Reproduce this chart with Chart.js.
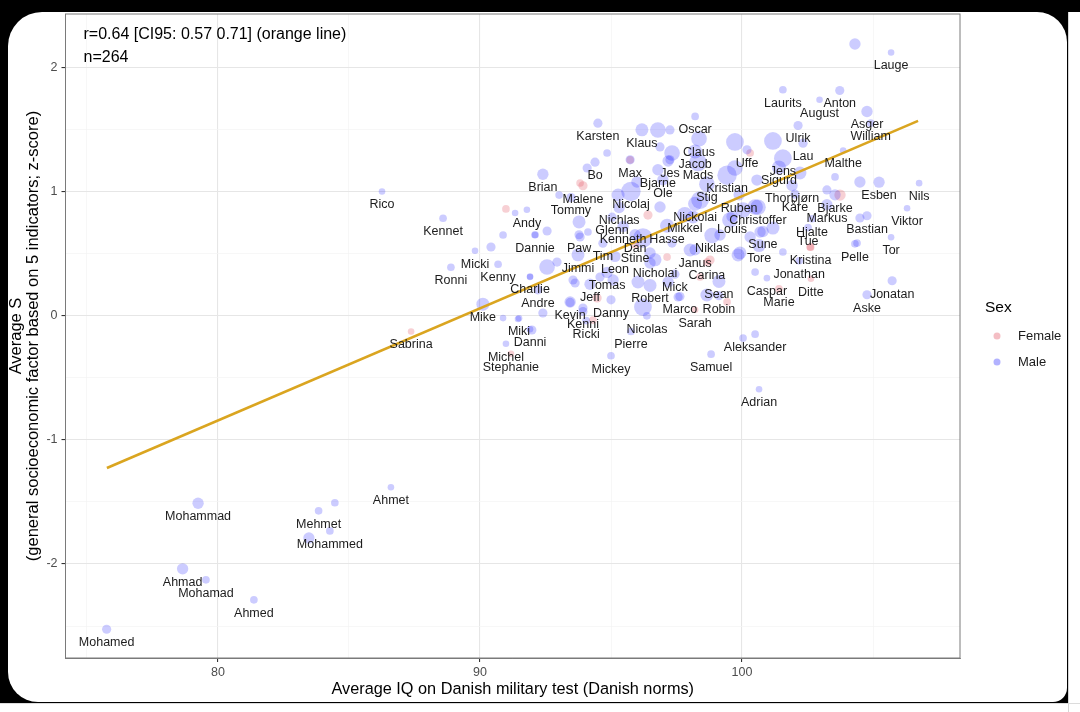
<!DOCTYPE html>
<html lang="en">
<head>
    <meta charset="UTF-8">
    <title>Average IQ and socioeconomic status by first name</title>
    <script src="https://cdn.jsdelivr.net/npm/chart.js"></script>
    <style>
        body { margin: 0; width: 1080px; height: 712px; background: #fff; overflow: hidden; font-family: "Liberation Sans", Arial, sans-serif; }
        #topband { position: absolute; left: 0; top: 0; width: 1080px; height: 12px; background: #000; }
        #frame { position: absolute; left: 0; top: 0; width: 1068px; height: 703px; background: #000; }
        #card { position: absolute; left: 8px; top: 12px; width: 1059px; height: 690px; background: #fff; border-radius: 34px 30px 14px 30px; }
        #edge { position: absolute; left: 1068px; top: 12px; width: 1px; height: 700px; background: #d6d6d6; }
        #bottomline { position: absolute; left: 0; top: 703px; width: 1080px; height: 1px; background: #dcdcdc; }
        #chartBox { position: absolute; left: 0; top: 0; width: 1080px; height: 712px; }
    </style>
</head>
<body>
    <div id="topband"></div>
    <div id="frame"></div>
    <div id="card"></div>
    <div id="edge"></div>
    <div id="bottomline"></div>
    <div id="chartBox"><canvas id="scatter"></canvas></div>
    <script>
        // names ('' = unlabeled), average IQ, average S, number of persons
        const maleNames = ['Lauge', 'Laurits', 'Anton', 'August', 'Asger', 'William', 'Ulrik', 'Lau', 'Malthe', 'Jens',
            'Sigurd', 'Uffe', 'Oscar', 'Claus', 'Jacob', 'Mads', 'Jes', 'Kristian', 'Stig', 'Thorbjørn',
            'Esben', 'Nils', 'Ruben', 'Kåre', 'Bjarke', 'Markus', 'Viktor', 'Nickolai', 'Christoffer', 'Mikkel',
            'Louis', 'Hjalte', 'Tue', 'Bastian', 'Hasse', 'Sune', 'Niklas', 'Tor', 'Tore', 'Pelle',
            'Janus', 'Jonathan', 'Mick', 'Caspar', 'Sean', 'Jonatan', 'Robert', 'Aske', 'Marco', 'Robin',
            'Aleksander', 'Samuel', 'Adrian', 'Dannie', 'Paw', 'Kenneth', 'Glenn', 'Nichlas', 'Dan', 'Tim',
            'Jimmi', 'Leon', 'Nicholai', 'Micki', 'Ronni', 'Kenny', 'Charlie', 'Tomas', 'Jeff', 'Andre',
            'Mike', 'Kevin', 'Danny', 'Kenni', 'Ricki', 'Miki', 'Danni', 'Nicolas', 'Pierre', 'Michel',
            'Mickey', 'Karsten', 'Klaus', 'Bo', 'Max', 'Brian', 'Bjarne', 'Ole', 'Nicolaj', 'Tommy',
            'Andy', 'Kennet', 'Rico', 'Ahmet', 'Mohammad', 'Mehmet', 'Mohammed', 'Ahmad', 'Mohamad', 'Ahmed',
            'Mohamed',
            '', '', '', '', '', '', '', '', '', '',
            '', '', '', '', '', '', '', '', '', '',
            '', '', '', '', '', '', '', '', '', '',
            '', '', '', '', '', '', '', '', '', '',
            '', '', '', '', '', '', '', '', '', '',
            '', '', '', '', '', '', '', '', '', '',
            '', '', '', '', '', '', '', '', ''];
        const maleIQ = [105.69, 101.56, 103.73, 102.96, 104.77, 104.91, 102.14, 102.33, 103.86, 101.56,
            101.41, 100.19, 98.21, 98.36, 98.21, 98.32, 97.25, 99.43, 98.66, 101.91,
            105.23, 106.76, 99.89, 102.02, 103.55, 103.24, 106.30, 98.21, 100.61, 97.82,
            99.62, 102.67, 102.52, 104.77, 97.14, 100.80, 98.86, 105.69, 100.65, 104.31,
            98.21, 102.18, 97.44, 100.95, 99.12, 105.73, 96.49, 104.77, 97.63, 99.12,
            100.50, 98.82, 100.65, 92.10, 93.78, 95.46, 95.04, 95.31, 95.92, 94.69,
            93.74, 95.15, 96.68, 89.81, 88.89, 90.69, 91.91, 94.85, 94.20, 92.21,
            90.11, 93.44, 95.00, 93.93, 94.05, 91.49, 91.91, 96.37, 95.76, 90.99,
            95.00, 94.50, 96.18, 94.39, 95.73, 92.40, 96.79, 96.98, 95.76, 93.47,
            91.79, 88.59, 86.26, 86.60, 79.24, 83.84, 84.27, 78.65, 79.54, 81.37,
            75.75,
            104.31, 83.47, 84.46, 96.79, 94.85, 94.09, 93.02, 91.34, 93.78, 92.56,
            92.10, 90.88, 90.42, 94.12, 95.27, 97.18, 99.73, 98.40, 98.13, 95.99,
            96.87, 93.82, 96.49, 98.02, 99.16, 99.92, 100.31, 100.50, 99.54, 93.55,
            95.08, 96.87, 99.73, 101.18, 102.21, 97.33, 97.25, 100.57, 104.50, 103.24,
            104.50, 103.55, 97.33, 100.04, 100.69, 101.18, 104.39, 99.85, 101.56, 100.50,
            97.56, 98.66, 100.04, 91.91, 92.56, 92.94, 90.88, 91.45, 91.98, 92.40,
            93.44, 93.63, 93.93, 96.22, 97.18, 96.03, 96.22, 96.49, 94.58];
        const maleS = [2.125, 1.824, 1.818, 1.743, 1.649, 1.555, 1.536, 1.393, 1.334, 1.272,
            1.197, 1.340, 1.609, 1.429, 1.326, 1.238, 1.259, 1.135, 1.063, 1.052,
            1.079, 1.071, 0.977, 0.982, 0.977, 0.897, 0.869, 0.905, 0.877, 0.816,
            0.802, 0.784, 0.713, 0.808, 0.727, 0.681, 0.649, 0.635, 0.568, 0.582,
            0.534, 0.445, 0.337, 0.305, 0.278, 0.284, 0.246, 0.171, 0.157, 0.163,
            -0.147, -0.308, -0.591, 0.655, 0.655, 0.722, 0.797, 0.875, 0.655, 0.587,
            0.493, 0.480, 0.453, 0.526, 0.393, 0.417, 0.318, 0.351, 0.256, 0.211,
            0.095, 0.109, 0.130, 0.036, -0.037, -0.018, -0.107, 0.001, -0.125, -0.224,
            -0.321, 1.555, 1.501, 1.240, 1.259, 1.143, 1.179, 1.098, 1.004, 0.955,
            0.856, 0.788, 1.004, -1.381, -1.510, -1.571, -1.733, -2.039, -2.128, -2.289,
            -2.526,
            2.193, -1.790, -1.506, 1.500, 1.314, 1.193, 0.975, 0.830, 0.758, 0.685,
            0.653, 0.653, 0.556, 0.677, 0.975, 1.250, 1.193, 0.935, 0.798, 1.080,
            0.879, 0.637, 0.508, 0.532, 0.653, 0.508, 0.637, 0.879, 0.774, 0.290,
            0.290, 1.363, 1.403, 1.411, 1.153, 1.314, 1.500, 1.096, 1.080, 1.016,
            0.790, 1.121, 0.588, 0.854, 0.677, 0.709, 0.588, 0.492, 0.516, 0.354,
            0.153, 0.169, -0.178, 0.314, 0.395, 0.435, -0.017, -0.025, -0.113, 0.024,
            0.113, 0.266, 0.064, 0.072, 0.274, 0.274, 0.629, 0.427, 0.314];
        const maleN = [1, 2, 4, 1, 8, 2, 4, 4, 1, 28,
            15, 4, 2, 20, 15, 28, 4, 35, 20, 8,
            8, 1, 8, 4, 8, 8, 1, 15, 20, 20,
            8, 2, 2, 4, 15, 8, 20, 1, 12, 2,
            8, 2, 4, 1, 12, 4, 12, 4, 4, 4,
            2, 2, 1, 2, 4, 8, 4, 8, 8, 4,
            12, 8, 12, 1, 2, 2, 1, 8, 8, 4,
            12, 4, 4, 4, 2, 1, 1, 2, 2, 1,
            2, 4, 12, 4, 4, 8, 8, 8, 35, 4,
            1, 2, 1, 1, 8, 2, 2, 8, 2, 2,
            4,
            8, 8, 2, 20, 2, 4, 2, 1, 12, 4,
            1, 2, 4, 2, 12, 8, 20, 28, 12, 8,
            8, 4, 8, 12, 8, 12, 8, 20, 20, 4,
            8, 4, 28, 28, 12, 20, 4, 8, 8, 4,
            4, 2, 4, 20, 8, 12, 2, 12, 2, 2,
            4, 12, 2, 1, 20, 4, 1, 1, 4, 4,
            8, 4, 4, 28, 8, 12, 35, 8, 4];

        const femaleNames = ['Malene', 'Stine', 'Kristina', 'Carina', 'Ditte', 'Marie', 'Sarah', 'Stephanie', 'Sabrina',
            '', '', '', '', '', '', '', '', '', '', '', '', ''];
        const femaleIQ = [93.93, 95.92, 102.62, 98.66, 102.63, 101.41, 98.21, 91.18, 87.37,
            95.73, 90.99, 96.41, 97.14, 98.78, 100.31, 93.82, 103.74, 102.60, 99.43, 98.40, 94.47, 94.31];
        const femaleS = [1.050, 0.574, 0.555, 0.434, 0.300, 0.219, 0.050, -0.305, -0.125,
            1.258, 0.863, 0.814, 0.475, 0.451, 1.314, 1.072, 0.975, 0.556, 0.113, 0.314, 0.145, -0.033];
        const femaleN = [4, 2, 2, 2, 1, 2, 1, 1, 1,
            2, 2, 4, 2, 4, 2, 2, 8, 2, 2, 2, 4, 2];

        // fitted line end points (orange)
        const fitIQ = [75.76, 106.72];
        const fitS = [-1.226, 1.573];

        const sexLevels = ['Female', 'Male'];
        const statText = ['r=0.64 [CI95: 0.57 0.71] (orange line)', 'n=264'];

        const FONT = '"Liberation Sans", Arial, sans-serif';
        const maleColor = 'rgba(0, 0, 255, 0.2)';
        const femaleColor = 'rgba(220, 40, 60, 0.22)';

        // point size from number of persons
        function radius(n) { return 2 + 1.3 * Math.sqrt(n); }

        function points(names, iq, s, n) {
            return iq.map((v, i) => ({ x: v, y: s[i], r: radius(n[i]), name: names[i] }));
        }

        // names under points, panel border, stats text and legend
        const extras = {
            id: 'extras',
            afterDatasetsDraw(chart) {
                const { ctx, chartArea, scales: { x, y } } = chart;
                ctx.save();
                ctx.font = '12.5px ' + FONT;
                ctx.fillStyle = '#1c1c1c';
                ctx.textAlign = 'center';
                ctx.textBaseline = 'middle';
                chart.data.datasets.forEach(ds => {
                    if (!ds.labelled) return;
                    ds.data.forEach(p => {
                        if (p.name) ctx.fillText(p.name, x.getPixelForValue(p.x), y.getPixelForValue(p.y) + 13.5);
                    });
                });

                ctx.strokeStyle = '#7a7a7a';
                ctx.lineWidth = 1;
                ctx.strokeRect(chartArea.left, chartArea.top, chartArea.right - chartArea.left, chartArea.bottom - chartArea.top);

                ctx.textAlign = 'left';
                ctx.fillStyle = '#000';
                ctx.font = '16px ' + FONT;
                statText.forEach((t, i) => ctx.fillText(t, chartArea.left + 18, chartArea.top + 21 + i * 23));

                const lx = chartArea.right + 25;
                ctx.font = '15.5px ' + FONT;
                ctx.fillText('Sex', lx, 308);
                ctx.font = '13px ' + FONT;
                const dotColors = ['rgba(220, 40, 60, 0.3)', 'rgba(0, 0, 255, 0.3)'];
                sexLevels.forEach((lev, i) => {
                    const cy = 336 + i * 26;
                    ctx.fillStyle = dotColors[i];
                    ctx.beginPath();
                    ctx.arc(lx + 12, cy, 3.5, 0, Math.PI * 2);
                    ctx.fill();
                    ctx.fillStyle = '#1c1c1c';
                    ctx.fillText(lev, lx + 33, cy);
                });
                ctx.restore();
            }
        };

        const ctx = document.getElementById('scatter').getContext('2d');
        const chart = new Chart(ctx, {
            type: 'bubble',
            data: {
                datasets: [
                    {
                        type: 'line',
                        label: 'fit',
                        data: fitIQ.map((v, i) => ({ x: v, y: fitS[i] })),
                        borderColor: '#DAA520',
                        borderWidth: 2.6,
                        pointRadius: 0,
                        fill: false,
                        order: 0
                    },
                    {
                        label: 'Male',
                        labelled: true,
                        data: points(maleNames, maleIQ, maleS, maleN),
                        backgroundColor: maleColor,
                        borderWidth: 0,
                        order: 1
                    },
                    {
                        label: 'Female',
                        labelled: true,
                        data: points(femaleNames, femaleIQ, femaleS, femaleN),
                        backgroundColor: femaleColor,
                        borderWidth: 0,
                        order: 2
                    }
                ]
            },
            options: {
                responsive: true,
                maintainAspectRatio: false,
                animation: false,
                layout: { padding: { left: 0, right: 120, top: 14, bottom: 0 } },
                plugins: {
                    legend: { display: false },
                    tooltip: { enabled: false }
                },
                scales: {
                    x: {
                        type: 'linear',
                        min: 74.18,
                        max: 108.32,
                        afterFit: s => { s.height = 54; },
                        ticks: {
                            stepSize: 5,
                            includeBounds: false,
                            autoSkip: false,
                            maxRotation: 0,
                            padding: 3,
                            color: '#4d4d4d',
                            font: { family: FONT, size: 12.5 },
                            callback: v => (v % 10 === 0 ? String(v) : '')
                        },
                        grid: {
                            color: c => (c.tick && c.tick.value % 10 === 0 ? '#e6e6e6' : '#f3f3f3'),
                            lineWidth: c => (c.tick && c.tick.value % 10 === 0 ? 1.1 : 0.7),
                            tickColor: c => (c.tick && c.tick.value % 10 === 0 ? '#333' : 'rgba(0,0,0,0)'),
                            tickLength: 4
                        },
                        border: { display: true, color: '#7a7a7a', width: 1 },
                        title: {
                            display: true,
                            text: 'Average IQ on Danish military test (Danish norms)',
                            color: '#000',
                            font: { family: FONT, size: 16.3, lineHeight: 1.2 },
                            padding: { top: 0, bottom: 12.5 }
                        }
                    },
                    y: {
                        type: 'linear',
                        min: -2.758,
                        max: 2.435,
                        afterFit: s => { s.width = 65.5; },
                        ticks: {
                            stepSize: 0.5,
                            includeBounds: false,
                            autoSkip: false,
                            padding: 4,
                            color: '#4d4d4d',
                            font: { family: FONT, size: 12.5 },
                            callback: v => (Number.isInteger(v) ? String(v) : '')
                        },
                        grid: {
                            color: c => (c.tick && Number.isInteger(c.tick.value) ? '#e6e6e6' : '#f3f3f3'),
                            lineWidth: c => (c.tick && Number.isInteger(c.tick.value) ? 1.1 : 0.7),
                            tickColor: c => (c.tick && Number.isInteger(c.tick.value) ? '#333' : 'rgba(0,0,0,0)'),
                            tickLength: 4
                        },
                        border: { display: true, color: '#7a7a7a', width: 1 },
                        title: {
                            display: true,
                            text: ['Average S', '(general socioeconomic factor based on 5 indicators; z-score)'],
                            color: '#000',
                            font: { family: FONT, size: 16.5, lineHeight: 1.0 },
                            padding: { top: 8.5, bottom: 0 }
                        }
                    }
                }
            },
            plugins: [extras]
        });
    </script>
</body>
</html>
